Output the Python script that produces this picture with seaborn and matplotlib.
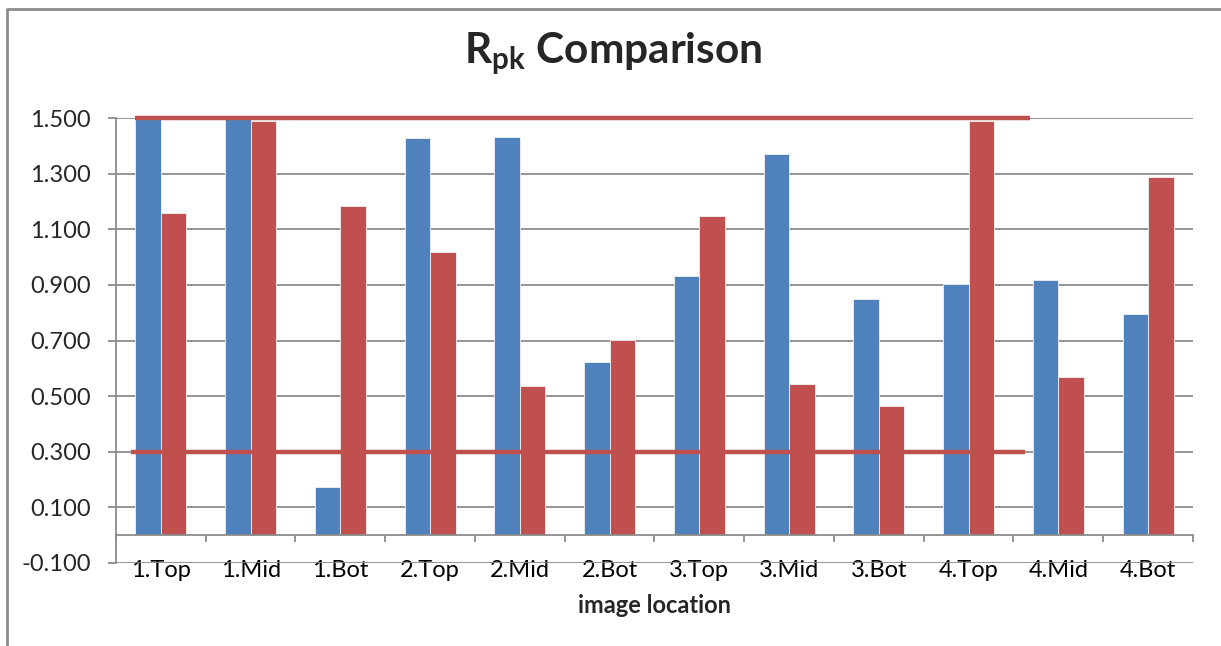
import matplotlib
matplotlib.use("Agg")
import matplotlib.pyplot as plt
import matplotlib.lines as mlines
import numpy as np
import pandas as pd
import seaborn as sns

# Rpk per image location, for the two measured series
locations = ["1.Top", "1.Mid", "1.Bot", "2.Top", "2.Mid", "2.Bot",
             "3.Top", "3.Mid", "3.Bot", "4.Top", "4.Mid", "4.Bot"]
series_a = [1.500, 1.500, 0.172, 1.428, 1.432, 0.624,
            0.933, 1.371, 0.850, 0.904, 0.918, 0.796]
series_b = [1.159, 1.490, 1.184, 1.019, 0.538, 0.703,
            1.148, 0.545, 0.466, 1.490, 0.570, 1.288]
series_names = ["A", "B"]

# limit lines
upper_limit = 1.5
lower_limit = 0.3

y_ticks = [-0.1, 0.1, 0.3, 0.5, 0.7, 0.9, 1.1, 1.3, 1.5]

BLUE = "#4f81bd"
RED = "#c0504d"
GRID = "#8c8c8c"

df = pd.DataFrame({
    "location": locations * 2,
    "value": series_a + series_b,
    "series": [series_names[0]] * len(locations) + [series_names[1]] * len(locations),
})

sns.set_theme(style="white")
plt.rcParams["font.family"] = ["Lato", "DejaVu Sans"]
plt.rcParams["mathtext.fontset"] = "custom"
plt.rcParams["mathtext.rm"] = "Lato"
plt.rcParams["mathtext.bf"] = "Lato:bold"

fig = plt.figure(figsize=(12.21, 6.46), dpi=100)
ax = fig.add_axes([0.095, 0.1285, 0.882, 0.6888])

sns.barplot(data=df, x="location", y="value", hue="series", order=locations,
            palette=[BLUE, RED], width=0.568, gap=0, dodge=True,
            edgecolor="#f2f2f2", linewidth=0.6, legend=False, ax=ax,
            errorbar=None, saturation=1)

# limit lines
ax.plot([-0.29, 9.68], [upper_limit, upper_limit], color=RED, lw=3.2,
        solid_capstyle="butt", zorder=4, clip_on=False)
ax.plot([-0.33, 9.63], [lower_limit, lower_limit], color=RED, lw=3.2,
        solid_capstyle="butt", zorder=4)

ax.set_ylim(-0.1, 1.5)
ax.set_xlim(-0.5, len(locations) - 0.5)
ax.set_yticks(y_ticks)
ax.set_yticklabels([f"{v:.3f}" for v in y_ticks], fontsize=17)
ax.yaxis.grid(True, color=GRID, lw=1.3)
ax.set_axisbelow(True)

# category axis crosses at zero, with boundary tick marks
ax.spines["bottom"].set_position(("data", 0))
ax.spines["bottom"].set_color(GRID)
ax.spines["bottom"].set_linewidth(1.3)
ax.spines["left"].set_color(GRID)
ax.spines["left"].set_linewidth(1.3)
ax.spines["top"].set_visible(False)
ax.spines["right"].set_visible(False)

ax.set_xticks(np.arange(len(locations)))
ax.set_xticklabels(locations, fontsize=17)
ax.set_xticks(np.arange(len(locations) + 1) - 0.5, minor=True)
ax.tick_params(axis="x", which="major", length=0, pad=18, colors="black")
ax.tick_params(axis="x", which="minor", length=5, width=1.3, color=GRID,
               direction="out", bottom=True)
ax.tick_params(axis="y", length=6, width=1.3, color=GRID, direction="out",
               left=True, pad=12)

ax.set_xlabel("image location", fontsize=17, fontweight="bold")
ax.xaxis.set_label_coords(0.5, -0.095)
ax.xaxis.label.set_verticalalignment("center")
ax.set_ylabel("")

fig.text(0.502, 0.902, r"$\mathbf{R_{pk}}$ Comparison", ha="center",
         va="baseline", fontsize=30.5, fontweight="bold")

# chart frame
frame = mlines.Line2D([7 / 1221, 7 / 1221, 1.0], [0.0, 1 - 9 / 646, 1 - 9 / 646],
                      transform=fig.transFigure, color="#8c8c8c", lw=2)
fig.add_artist(frame)

fig.savefig("out.png", dpi=100, facecolor="white")
